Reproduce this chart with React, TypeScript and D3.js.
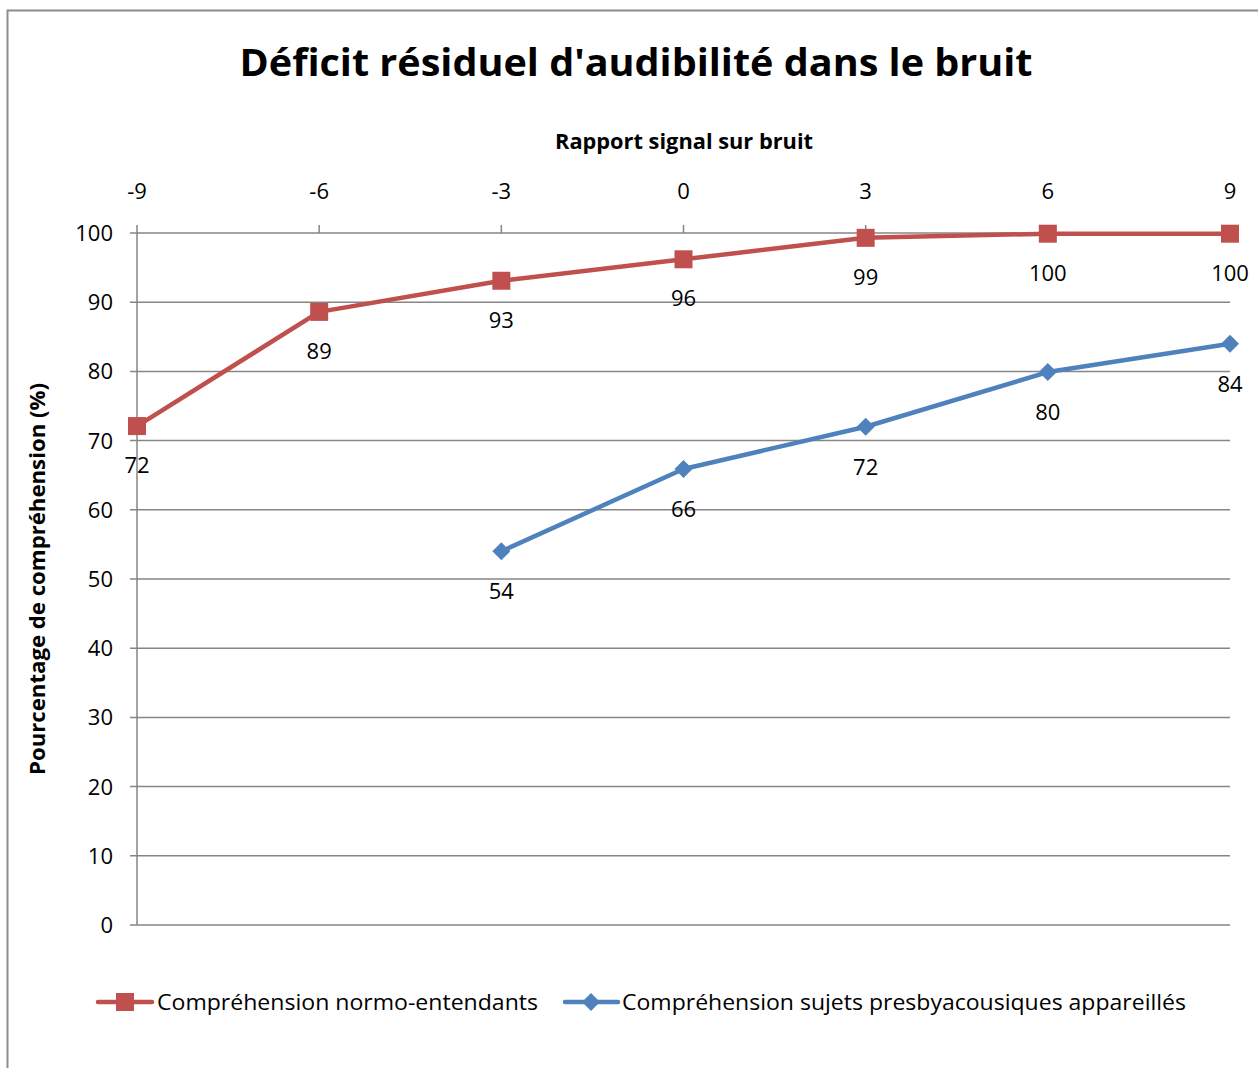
import React from "react";
import * as d3 from "d3";

const xTicks = [-9, -6, -3, 0, 3, 6, 9];
const yTicks = [0, 10, 20, 30, 40, 50, 60, 70, 80, 90, 100];
const normoX = [-9, -6, -3, 0, 3, 6, 9];
const normoY = [72.1, 88.6, 93.1, 96.2, 99.3, 99.9, 99.9];
const presbyX = [-3, 0, 3, 6, 9];
const presbyY = [54, 65.9, 72, 79.9, 84];
const title = "Déficit résiduel d'audibilité dans le bruit";
const xTitle = "Rapport signal sur bruit";
const yTitle = "Pourcentage de compréhension (%)";
const seriesNames = ["Compréhension normo-entendants", "Compréhension sujets presbyacousiques appareillés"];

const RED = "#C0504D";
const BLUE = "#4F81BD";
const GRID = "#868686";
const FONT = "'Open Sans', 'DejaVu Sans', sans-serif";

export default function App() {
  const W = 1258, H = 1068;
  const x = d3.scaleLinear().domain([-9, 9]).range([137, 1230]);
  const y = d3.scaleLinear().domain([0, 100]).range([925, 233]);
  const line = d3.line<[number, number]>().x(d => x(d[0])).y(d => y(d[1]));
  const normo: [number, number][] = normoX.map((v, i) => [v, normoY[i]]);
  const presby: [number, number][] = presbyX.map((v, i) => [v, presbyY[i]]);
  const sq = 18, dm = 9;
  const diamond = (cx: number, cy: number) => `M${cx},${cy - dm}L${cx + dm},${cy}L${cx},${cy + dm}L${cx - dm},${cy}Z`;

  return (
    <svg width={W} height={H} style={{ display: "block", position: "absolute", left: 0, top: 0 }} fontFamily={FONT}>
      <rect x={0} y={0} width={W} height={H} fill="#fff" />
      <rect x={7.5} y={10.5} width={W + 10} height={H + 10} fill="none" stroke="#8c8c8c" strokeWidth={2} />
      <text x={636} y={76} textAnchor="middle" fontSize={38} fontWeight="bold" textLength={793} lengthAdjust="spacingAndGlyphs">{title}</text>
      <text x={684} y={149} textAnchor="middle" fontSize={21} fontWeight="bold" textLength={258} lengthAdjust="spacingAndGlyphs">{xTitle}</text>
      <text transform="translate(45,579) rotate(-90)" textAnchor="middle" fontSize={21} fontWeight="bold" textLength={392} lengthAdjust="spacingAndGlyphs">{yTitle}</text>

      {yTicks.map(t => (
        <g key={"y" + t}>
          <line x1={130} x2={1230} y1={y(t)} y2={y(t)} stroke={GRID} strokeWidth={1.5} />
          <text x={113} y={y(t) + 8} textAnchor="end" fontSize={22}>{t}</text>
        </g>
      ))}
      <line x1={x(-9)} x2={x(-9)} y1={y(100)} y2={y(0)} stroke={GRID} strokeWidth={1.5} />
      {xTicks.map(t => (
        <g key={"x" + t}>
          <line x1={x(t)} x2={x(t)} y1={y(100) - 8} y2={y(100)} stroke={GRID} strokeWidth={1.5} />
          <text x={x(t)} y={199} textAnchor="middle" fontSize={22}>{t}</text>
        </g>
      ))}

      <path d={line(normo) || ""} fill="none" stroke={RED} strokeWidth={4.5} strokeLinejoin="round" />
      {normo.map((d, i) => (
        <rect key={"n" + i} x={x(d[0]) - sq / 2} y={y(d[1]) - sq / 2} width={sq} height={sq} fill={RED} />
      ))}
      {normo.map((d, i) => (
        <text key={"nl" + i} x={x(d[0])} y={y(d[1]) + 47} textAnchor="middle" fontSize={22}>{Math.round(d[1])}</text>
      ))}

      <path d={line(presby) || ""} fill="none" stroke={BLUE} strokeWidth={4.5} strokeLinejoin="round" />
      {presby.map((d, i) => (
        <path key={"p" + i} d={diamond(x(d[0]), y(d[1]))} fill={BLUE} />
      ))}
      {presby.map((d, i) => (
        <text key={"pl" + i} x={x(d[0])} y={y(d[1]) + 48} textAnchor="middle" fontSize={22}>{Math.round(d[1])}</text>
      ))}

      <g>
        <line x1={98} x2={152} y1={1002} y2={1002} stroke={RED} strokeWidth={4.5} strokeLinecap="round" />
        <rect x={125 - sq / 2} y={1002 - sq / 2} width={sq} height={sq} fill={RED} />
        <text x={157} y={1010} fontSize={21} textLength={381} lengthAdjust="spacingAndGlyphs">{seriesNames[0]}</text>
        <line x1={565} x2={618} y1={1002} y2={1002} stroke={BLUE} strokeWidth={4.5} strokeLinecap="round" />
        <path d={diamond(591, 1002)} fill={BLUE} />
        <text x={622} y={1010} fontSize={21} textLength={564} lengthAdjust="spacingAndGlyphs">{seriesNames[1]}</text>
      </g>
    </svg>
  );
}
